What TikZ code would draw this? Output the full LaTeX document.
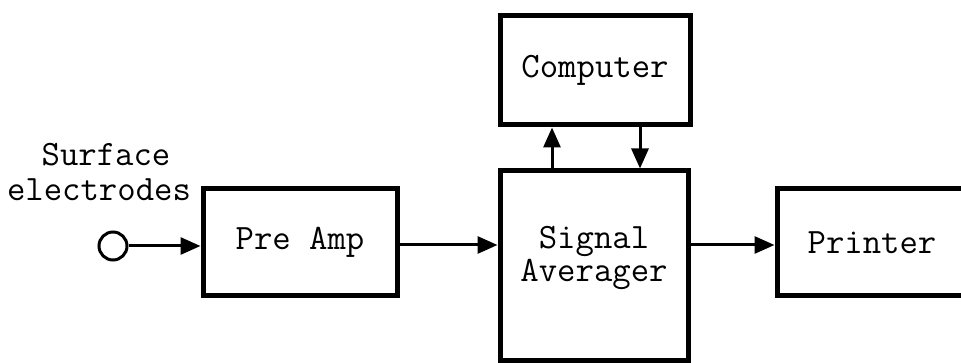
\documentclass[tikz,border=0pt]{standalone}
\usepackage{fontspec}
\usetikzlibrary{arrows.meta}
\begin{document}
\begin{tikzpicture}[x=1pt,y=-1pt,
  box/.style={draw, line width=5pt, rectangle, inner sep=0pt, font=\ttfamily\fontsize{35.7}{33}\selectfont, align=center},
  lbl/.style={inner sep=0pt, font=\ttfamily\fontsize{35.7}{33}\selectfont, align=center},
  conn/.style={line width=3pt, -{Triangle[length=20pt,width=17pt]}}]
\useasboundingbox (0,0) rectangle (961,363);
\clip (0,0) rectangle (961,363);
\node[box, minimum width=190pt, minimum height=109pt] (comp) at (595,70.5) {Computer};
\node[box, minimum width=188pt, minimum height=189pt] (sa) at (594,265.5) {};
\node[lbl] (satext) at (594,258) {Signal\\Averager};
\node[box, minimum width=194pt, minimum height=107pt] (pre) at (300,242.5) {Pre Amp};
\node[box, minimum width=190pt, minimum height=107pt] (prn) at (872,242.5) {Printer};
\node[draw, circle, line width=3pt, minimum size=28pt, inner sep=0pt] (circ) at (113,246) {};
\node[lbl] (surf1) at (106,155) {Surface};
\node[lbl] (surf2) at (99,190) {electrodes};
\draw[conn] (circ.east) -- (circ.east -| pre.west);
\draw[conn] (pre.east |- 0,245) -- (sa.west |- 0,245);
\draw[conn] (sa.east |- 0,245) -- (prn.west |- 0,245);
\draw[conn] ([xshift=-42pt]sa.north) -- ([xshift=-42pt]sa.north |- comp.south);
\draw[conn] ([xshift=46pt]sa.north |- comp.south) -- ([xshift=46pt]sa.north);
\end{tikzpicture}
\end{document}
